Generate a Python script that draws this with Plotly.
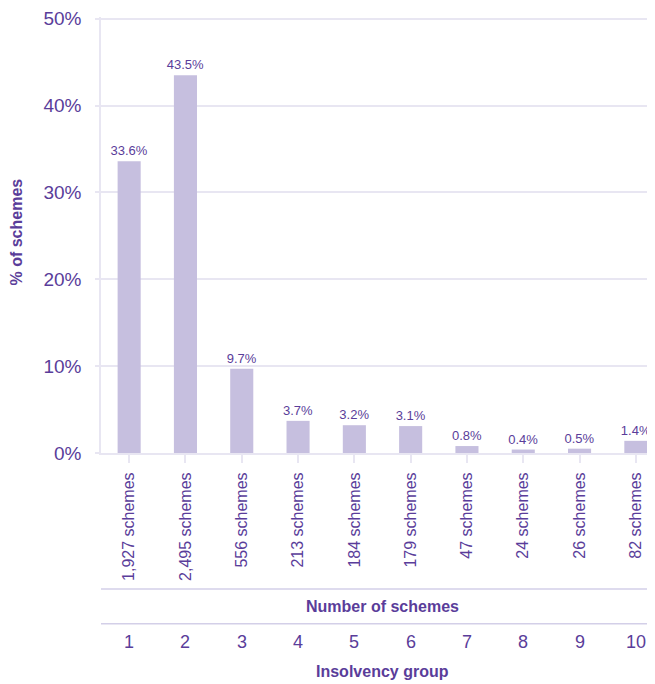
import plotly.graph_objects as go

groups = ["1", "2", "3", "4", "5", "6", "7", "8", "9", "10"]
scheme_labels = ["1,927 schemes", "2,495 schemes", "556 schemes", "213 schemes", "184 schemes",
                 "179 schemes", "47 schemes", "24 schemes", "26 schemes", "82 schemes"]
pct = [33.6, 43.5, 9.7, 3.7, 3.2, 3.1, 0.8, 0.4, 0.5, 1.4]
y_ticks = [0, 10, 20, 30, 40, 50]

PURPLE = "#5a3d9a"
BAR = "#c6bfdf"
GRID = "#e8e6f2"
FONT = "Liberation Sans, Arial, sans-serif"

# page has an 8px body margin; compensate so the plot lands where the reference has it
OFF = 8
W, H = 655 - OFF, 684 - OFF
PLOT_L, PLOT_T, PLOT_B = 101, 14, 453   # page pixel positions
ML = PLOT_L - OFF
MT = PLOT_T - OFF
MB = H - (PLOT_B - OFF)
PH = PLOT_B - PLOT_T
PW = 655 - PLOT_L

def py(pix):
    return (PLOT_B - pix) / PH

def px(pix):
    return (pix - PLOT_L) / PW

fig = go.Figure()
fig.add_trace(go.Bar(
    x=list(range(len(groups))), y=pct,
    marker=dict(color=BAR, line=dict(width=0)),
    width=0.41,
    text=[f"{v:.1f}%" for v in pct], textposition="outside", constraintext="none",
    textfont=dict(family=FONT, size=13, color=PURPLE),
    cliponaxis=False, hoverinfo="skip",
))

fig.update_layout(
    width=W, height=H, margin=dict(l=ML, r=0, t=MT, b=MB, pad=0),
    paper_bgcolor="white", plot_bgcolor="white", showlegend=False,
    font=dict(family=FONT, color=PURPLE),
    xaxis=dict(
        tickmode="array", tickvals=list(range(len(groups))), ticktext=scheme_labels,
        tickangle=-90, range=[-0.5, 9.34], showgrid=False, zeroline=False,
        showline=True, linecolor=GRID, linewidth=2,
        ticks="outside", ticklen=8, tickcolor=GRID, tickwidth=1.5,
        tickfont=dict(family=FONT, size=16, color=PURPLE), ticklabelstandoff=3,
    ),
    yaxis=dict(
        range=[0, 50.2], tickmode="array", tickvals=y_ticks,
        ticktext=[f"{v}%" for v in y_ticks],
        showgrid=True, gridcolor=GRID, gridwidth=2, zeroline=False,
        showline=True, linecolor=GRID, linewidth=1.5,
        ticks="outside", ticklen=4, tickcolor=GRID, tickwidth=2,
        tickfont=dict(family=FONT, size=19, color=PURPLE), ticklabelstandoff=10,
        ticklabeloverflow="allow",
    ),
)

for pix in (590, 625):
    fig.add_shape(type="line", xref="paper", yref="paper", x0=0, x1=1,
                  y0=py(pix), y1=py(pix), line=dict(color="#d3cfe8", width=1.5))

fig.add_annotation(text="<b>Number of schemes</b>", xref="paper", yref="paper",
                   x=px(382), y=py(608), xanchor="center", yanchor="middle", showarrow=False,
                   font=dict(family=FONT, size=16, color=PURPLE))
for i, g in enumerate(groups):
    fig.add_annotation(text=g, xref="x", yref="paper", x=i, y=py(643),
                       xanchor="center", yanchor="middle",
                       showarrow=False, font=dict(family=FONT, size=18, color=PURPLE))
fig.add_annotation(text="<b>Insolvency group</b>", xref="paper", yref="paper",
                   x=px(382), y=py(673), xanchor="center", yanchor="middle", showarrow=False,
                   font=dict(family=FONT, size=16, color=PURPLE))
fig.add_annotation(text="<b>% of schemes</b>", xref="paper", yref="paper",
                   x=px(17), y=py(231), xanchor="center", yanchor="middle",
                   showarrow=False, textangle=-90,
                   font=dict(family=FONT, size=16, color=PURPLE))

fig.write_html("out.html")
